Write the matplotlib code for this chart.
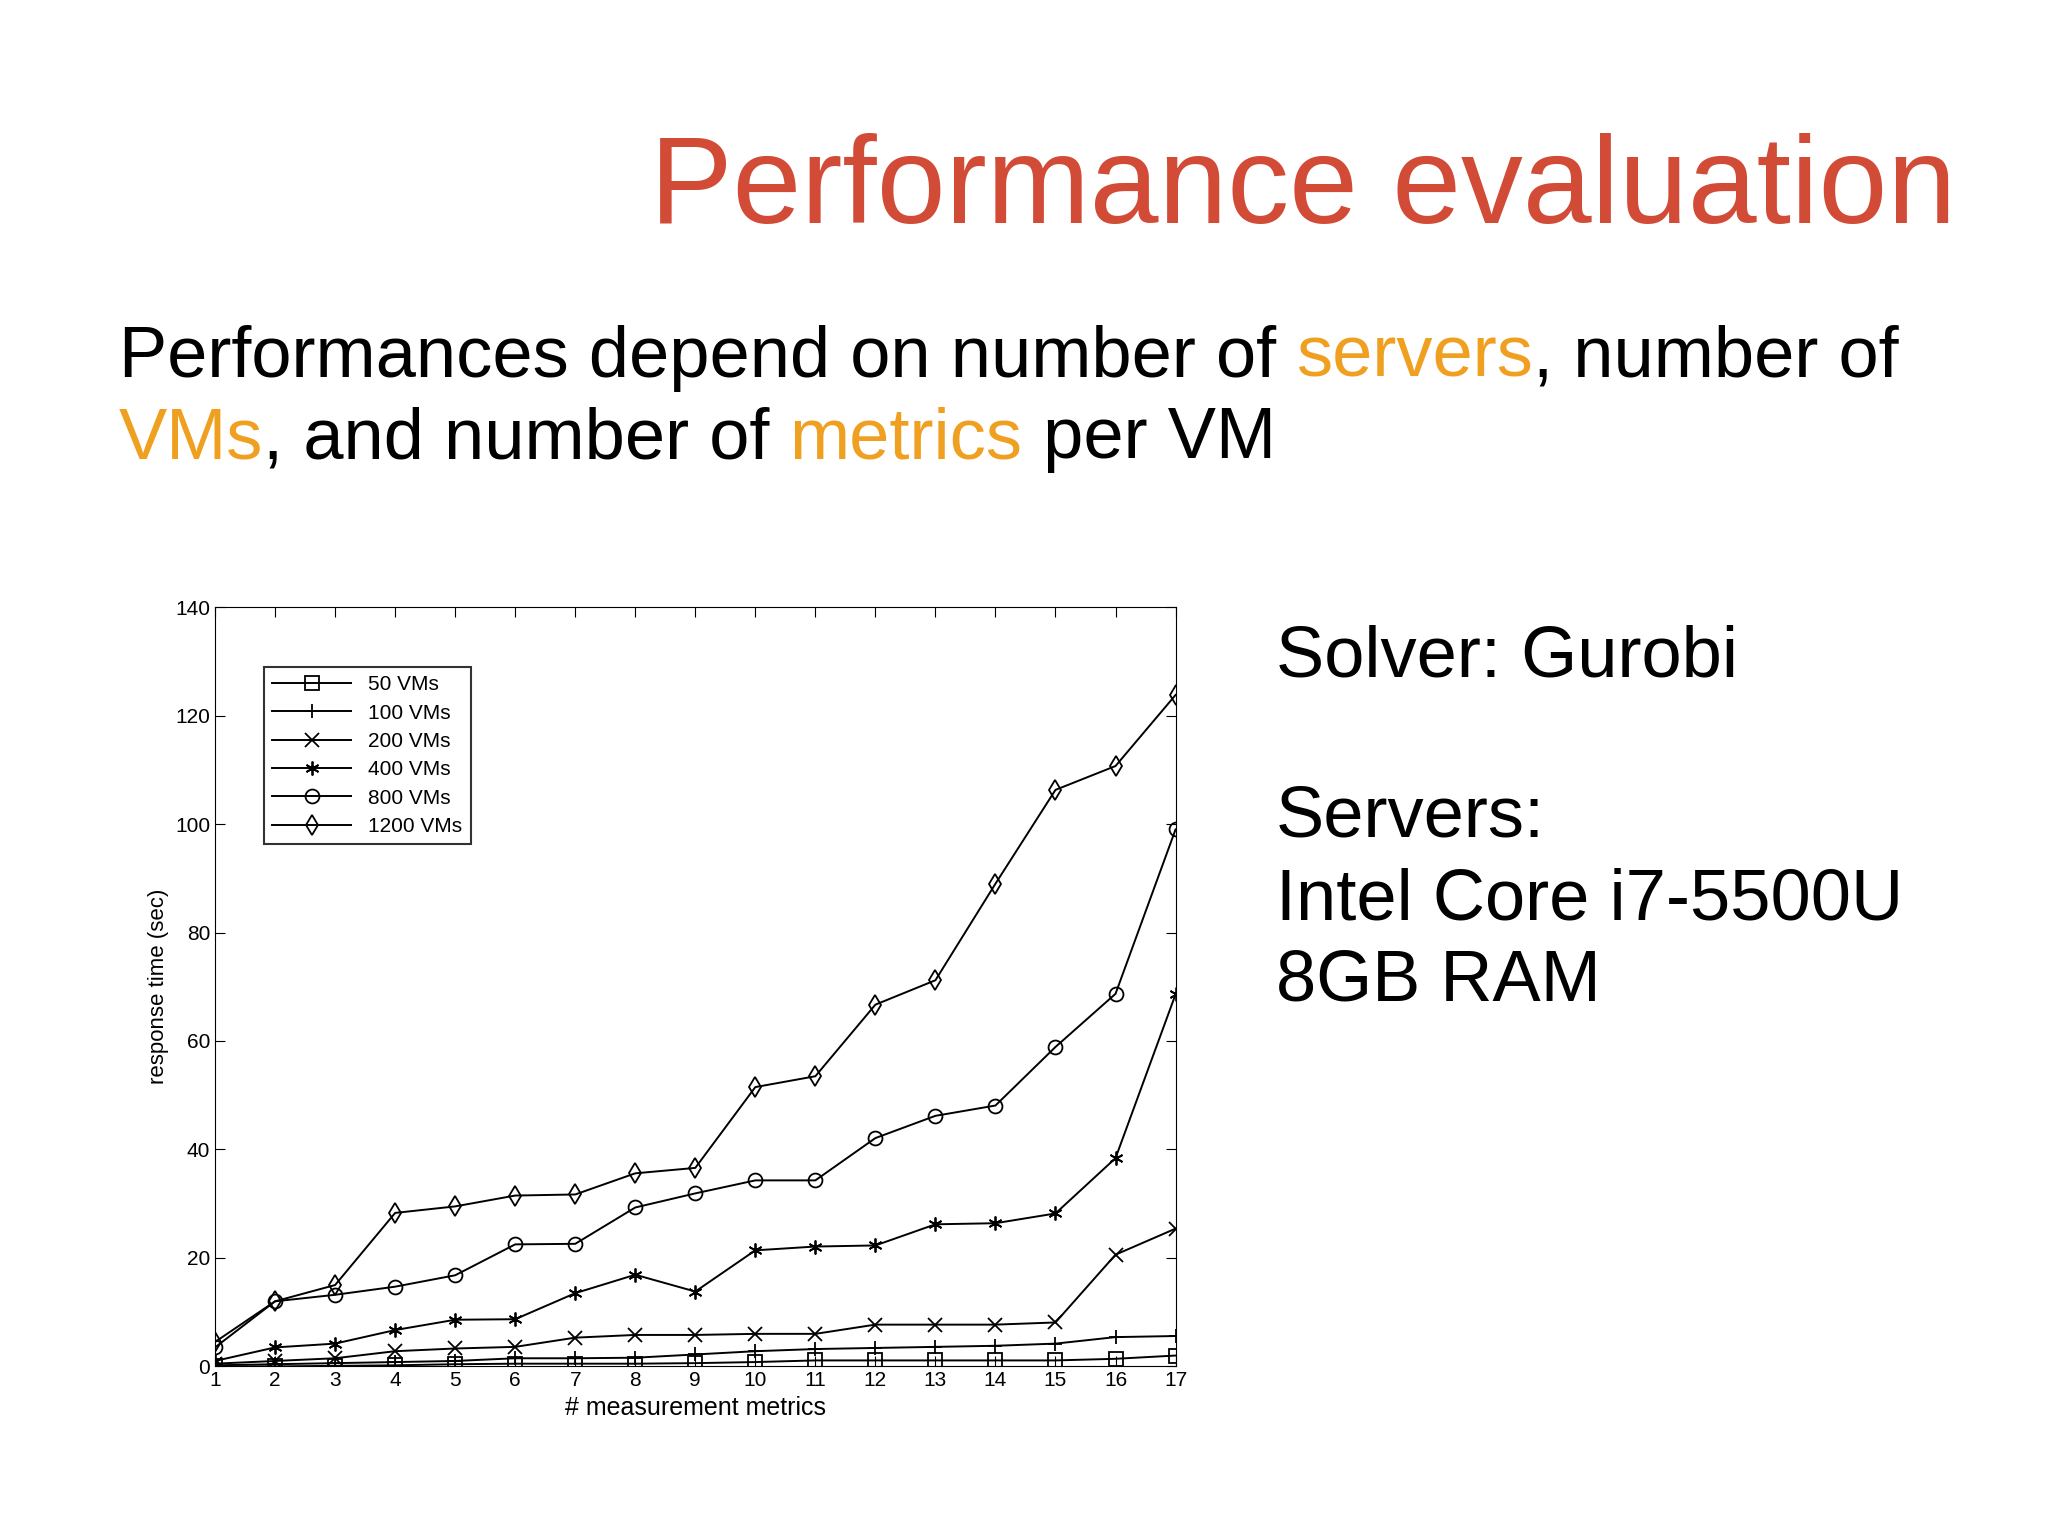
import matplotlib
matplotlib.use("Agg")
import matplotlib.pyplot as plt

x = list(range(1, 18))
vm50 = [0, 0, 0.1, 0.2, 0.4, 0.5, 0.5, 0.5, 0.6, 0.8, 1.1, 1.1, 1.1, 1.1, 1.1, 1.4, 2.0]
vm100 = [0.2, 0.4, 0.6, 0.8, 1, 1.5, 1.5, 1.6, 2.2, 2.8, 3.2, 3.4, 3.6, 3.8, 4.2, 5.4, 5.6]
vm200 = [0.5, 1, 1.5, 2.8, 3.3, 3.6, 5.3, 5.8, 5.8, 6, 6, 7.7, 7.7, 7.7, 8.1, 20.6, 25.4]
vm400 = [1, 3.5, 4.2, 6.7, 8.6, 8.7, 13.5, 16.9, 13.8, 21.4, 22.1, 22.3, 26.2, 26.4, 28.2, 38.4, 68.6]
vm800 = [3.5, 12, 13.2, 14.7, 16.8, 22.5, 22.6, 29.3, 31.9, 34.3, 34.3, 42.1, 46.2, 48.1, 58.9, 68.7, 99]
vm1200 = [4.5, 12, 15, 28.3, 29.5, 31.5, 31.7, 35.6, 36.6, 51.5, 53.5, 66.7, 71.2, 89, 106.3, 110.7, 123.8]
series = [("50 VMs", vm50, "s"), ("100 VMs", vm100, "+"), ("200 VMs", vm200, "x"),
          ("400 VMs", vm400, (6, 2, 0)), ("800 VMs", vm800, "o"), ("1200 VMs", vm1200, "d")]

plt.rcParams['font.family'] = ['Liberation Sans', 'DejaVu Sans']
fig = plt.figure(figsize=(20.48, 15.37), dpi=100)
fig.patch.set_facecolor("white")

orange = "#F0A020"
fig.text(0.955, 0.855, "Performance evaluation", ha="right", va="baseline",
         fontsize=89, color="#D24B37")

def multi(xf, yf, parts, size):
    r = fig.canvas.get_renderer()
    xx = xf
    for s, c in parts:
        t = fig.text(xx, yf, s, fontsize=size, color=c, va="baseline", ha="left")
        bb = t.get_window_extent(renderer=r)
        xx += bb.width / fig.bbox.width

multi(0.058, 0.755, [("Performances depend on number of ", "black"), ("servers", orange),
                     (", number of", "black")], 52)
multi(0.058, 0.702, [("VMs", orange), (", and number of ", "black"), ("metrics", orange),
                     (" per VM", "black")], 52)

for yy, s in [(0.56, "Solver: Gurobi"), (0.456, "Servers:"), (0.402, "Intel Core i7-5500U"),
              (0.349, "8GB RAM")]:
    fig.text(0.623, yy, s, fontsize=52, va="baseline")

ax = fig.add_axes([0.105, 0.111, 0.469, 0.494])
for lab, v, m in series:
    ax.plot(x, v, color="black", lw=1.4, marker=m, markersize=10, mfc="none",
            mec="black", mew=1.3, label=lab)
ax.set_xlim(1, 17)
ax.set_ylim(0, 140)
ax.set_xticks(x)
ax.set_yticks(range(0, 141, 20))
ax.tick_params(direction="in", top=True, right=True, labelsize=15, length=7)
ax.set_xlabel("# measurement metrics", fontsize=18, labelpad=4)
ax.set_ylabel("response time (sec)", fontsize=16)
leg = ax.legend(loc="upper left", bbox_to_anchor=(0.04, 0.935), fontsize=15,
                fancybox=False, edgecolor="black", handlelength=3.8, labelspacing=0.45)
leg.get_frame().set_linewidth(1.5)

fig.savefig("out.png", dpi=100)
